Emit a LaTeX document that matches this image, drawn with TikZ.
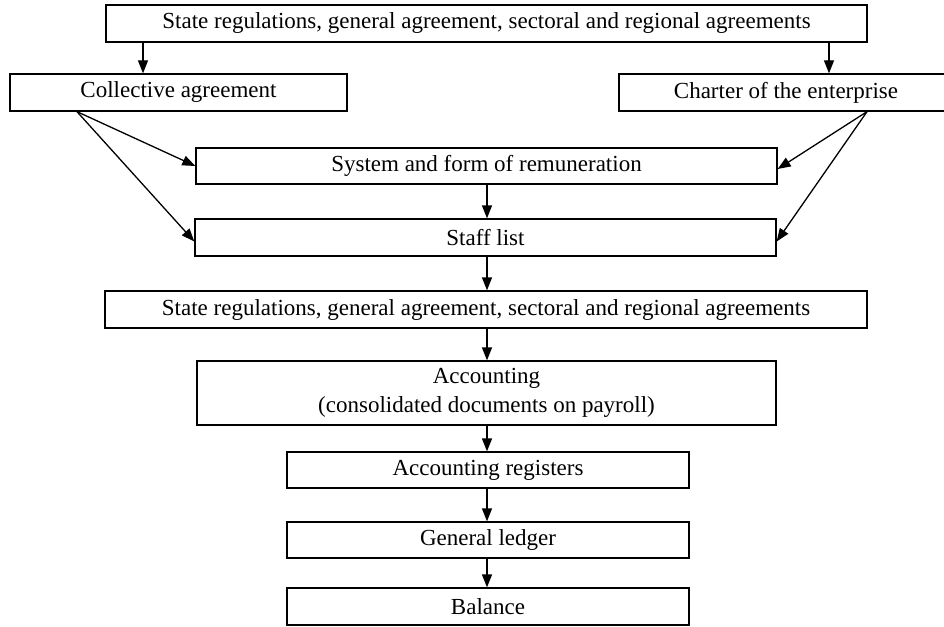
\documentclass[tikz,border=0pt]{standalone}
\usepackage{fontspec}
\setmainfont{Liberation Serif}
\usetikzlibrary{arrows.meta}
\begin{document}
\begin{tikzpicture}[x=1pt,y=-1pt,
  box/.style={draw,line width=1.3pt,inner sep=0pt,align=center,
    font=\fontsize{23}{29}\selectfont},
  arr/.style={line width=1.3pt,-{Triangle[length=13pt,width=10pt]}}]
\useasboundingbox (0,0) rectangle (944,626);
\node[box,minimum width=761pt,minimum height=37pt] (top) at (486.5,23.5) {State regulations, general agreement, sectoral and regional agreements};
\node[box,minimum width=337pt,minimum height=37pt] (coll) at (178.5,92.5) {Collective agreement};
\node[box,minimum width=334pt,minimum height=37pt] (charter) at (786,92.5) {Charter of the enterprise};
\node[box,minimum width=581pt,minimum height=36pt] (sys) at (486.5,166) {System and form of remuneration};
\node[box,minimum width=581pt,minimum height=37pt] (staff) at (485.5,237.5) {Staff list};
\node[box,minimum width=762pt,minimum height=37pt] (state2) at (486,309.5) {State regulations, general agreement, sectoral and regional agreements};
\node[box,minimum width=579pt,minimum height=64pt] (acc) at (486.5,393) {Accounting\\(consolidated documents on payroll)};
\node[box,minimum width=402pt,minimum height=36pt] (reg) at (488,470) {Accounting registers};
\node[box,minimum width=402pt,minimum height=36pt] (ledger) at (488,540) {General ledger};
\node[box,minimum width=402pt,minimum height=37pt] (bal) at (488,606.5) {Balance};
\coordinate (lx) at (143,0);
\coordinate (rx) at (829,0);
\coordinate (mx) at (487,0);
\coordinate (cl) at (77,0);
\coordinate (cr) at (867,0);
\draw[arr] (top.south -| lx) -- (coll.north -| lx);
\draw[arr] (top.south -| rx) -- (charter.north -| rx);
\draw[arr] (coll.south -| cl) -- (sys.west);
\draw[arr] (coll.south -| cl) -- ([yshift=-4pt]staff.west);
\draw[arr] (charter.south -| cr) -- ([yshift=-3pt]sys.east);
\draw[arr] (charter.south -| cr) -- ([yshift=-4pt]staff.east);
\draw[arr] (sys.south -| mx) -- (staff.north -| mx);
\draw[arr] (staff.south -| mx) -- (state2.north -| mx);
\draw[arr] (state2.south -| mx) -- (acc.north -| mx);
\draw[arr] (acc.south -| mx) -- (reg.north -| mx);
\draw[arr] (reg.south -| mx) -- (ledger.north -| mx);
\draw[arr] (ledger.south -| mx) -- (bal.north -| mx);
\end{tikzpicture}
\end{document}
